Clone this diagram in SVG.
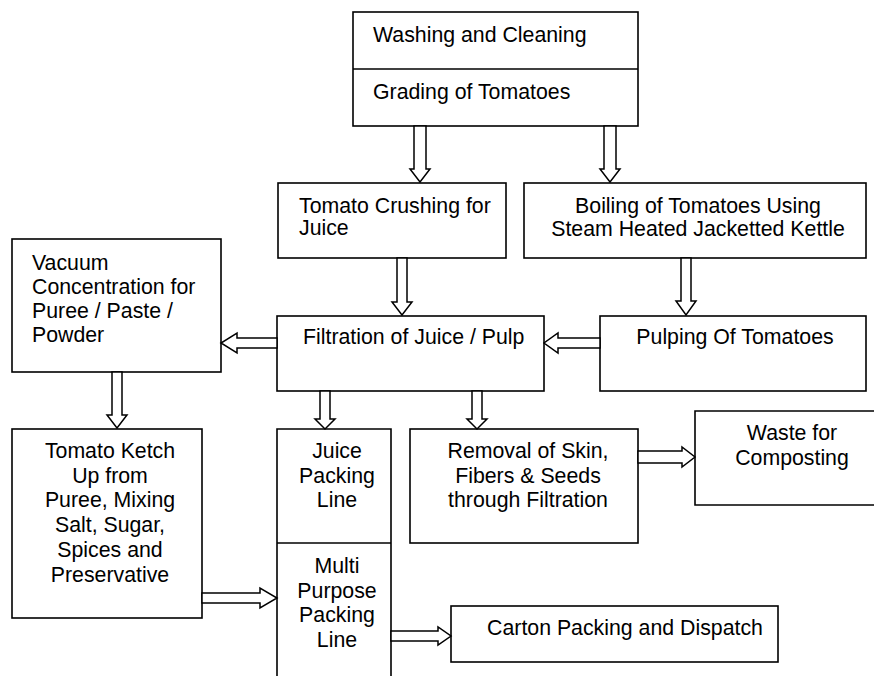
<svg xmlns="http://www.w3.org/2000/svg" width="874" height="676" viewBox="0 0 874 676">
<style>
.box{fill:#fff;stroke:#000;stroke-width:1.6}
.ln{fill:none;stroke:#000;stroke-width:1.6}
.arr{fill:#fff;stroke:#000;stroke-width:1.5;stroke-linejoin:miter}
text{font-family:"Liberation Sans",Arial,sans-serif;font-size:21.3px;fill:#000}
.c{text-anchor:middle}
</style>
<rect width="874" height="676" fill="#fff"/>
<g id="n-washing-grading">
<rect class="box" x="353" y="12" width="285" height="114"/>
<line class="ln" x1="353" y1="69" x2="638" y2="69"/>
<text x="373" y="42">Washing and Cleaning</text>
<text x="373" y="99">Grading of Tomatoes</text>
</g>
<g id="n-crushing">
<rect class="box" x="278" y="183" width="228" height="75"/>
<text x="299" y="213">Tomato Crushing for</text>
<text x="299" y="235">Juice</text>
</g>
<g id="n-boiling">
<rect class="box" x="524" y="183" width="342" height="75"/>
<text class="c" x="698" y="213">Boiling of Tomatoes Using</text>
<text class="c" x="698" y="236">Steam Heated Jacketted Kettle</text>
</g>
<g id="n-vacuum">
<rect class="box" x="12" y="239" width="209" height="133"/>
<text x="32" y="270">Vacuum</text>
<text x="32" y="294">Concentration for</text>
<text x="32" y="318">Puree / Paste /</text>
<text x="32" y="342">Powder</text>
</g>
<g id="n-filtration">
<rect class="box" x="277" y="316" width="267" height="75"/>
<text x="303" y="344">Filtration of Juice / Pulp</text>
</g>
<g id="n-pulping">
<rect class="box" x="600" y="316" width="266" height="75"/>
<text class="c" x="735" y="344">Pulping Of Tomatoes</text>
</g>
<g id="n-ketchup">
<rect class="box" x="12" y="429" width="190" height="189"/>
<text class="c" x="110" y="458">Tomato Ketch</text>
<text class="c" x="110" y="482.7">Up from</text>
<text class="c" x="110" y="507.4">Puree, Mixing</text>
<text class="c" x="110" y="532.1">Salt, Sugar,</text>
<text class="c" x="110" y="556.8">Spices and</text>
<text class="c" x="110" y="581.5">Preservative</text>
</g>
<g id="n-packing-lines">
<path class="ln" d="M277,677 V429 H391 V677"/>
<line class="ln" x1="277" y1="543" x2="391" y2="543"/>
<text class="c" x="337" y="458">Juice</text>
<text class="c" x="337" y="482.7">Packing</text>
<text class="c" x="337" y="507.4">Line</text>
<text class="c" x="337" y="573">Multi</text>
<text class="c" x="337" y="597.7">Purpose</text>
<text class="c" x="337" y="622.4">Packing</text>
<text class="c" x="337" y="647">Line</text>
</g>
<g id="n-removal">
<rect class="box" x="410" y="429" width="228" height="114"/>
<text class="c" x="528" y="458">Removal of Skin,</text>
<text class="c" x="528" y="482.7">Fibers &amp; Seeds</text>
<text class="c" x="528" y="507.4">through Filtration</text>
</g>
<g id="n-waste">
<path class="ln" d="M880,411 H695 V505 H880"/>
<text class="c" x="792" y="440">Waste for</text>
<text class="c" x="792" y="464.5">Composting</text>
</g>
<g id="n-carton">
<rect class="box" x="451" y="606" width="327" height="56"/>
<text class="c" x="625" y="635">Carton Packing and Dispatch</text>
</g>
<g id="connectors">
<polygon class="arr" points="414,126 426,126 426,169 430,169 420,182 410,169 414,169"/>
<polygon class="arr" points="604,126 616,126 616,169 620,169 610,182 600,169 604,169"/>
<polygon class="arr" points="397,258 407,258 407,302 412,302 402,315 392,302 397,302"/>
<polygon class="arr" points="681,258 691,258 691,301 696,301 686,315 676,301 681,301"/>
<polygon class="arr" points="112,372 122,372 122,415 127,415 117,428 107,415 112,415"/>
<polygon class="arr" points="320,391 330,391 330,419 335,419 325,429 315,419 320,419"/>
<polygon class="arr" points="472,391 482,391 482,419 487,419 477,429 467,419 472,419"/>
<polygon class="arr" points="277,338 237,338 237,333 221,343 237,353 237,348 277,348"/>
<polygon class="arr" points="600,338 558,338 558,333 544,343 558,353 558,348 600,348"/>
<polygon class="arr" points="202,593 260,593 260,588 277,598 260,608 260,603 202,603"/>
<polygon class="arr" points="638,451 682,451 682,447 695,457 682,467 682,463 638,463"/>
<polygon class="arr" points="391,631 438,631 438,627 451,636 438,645 438,641 391,641"/>
</g>
</svg>
